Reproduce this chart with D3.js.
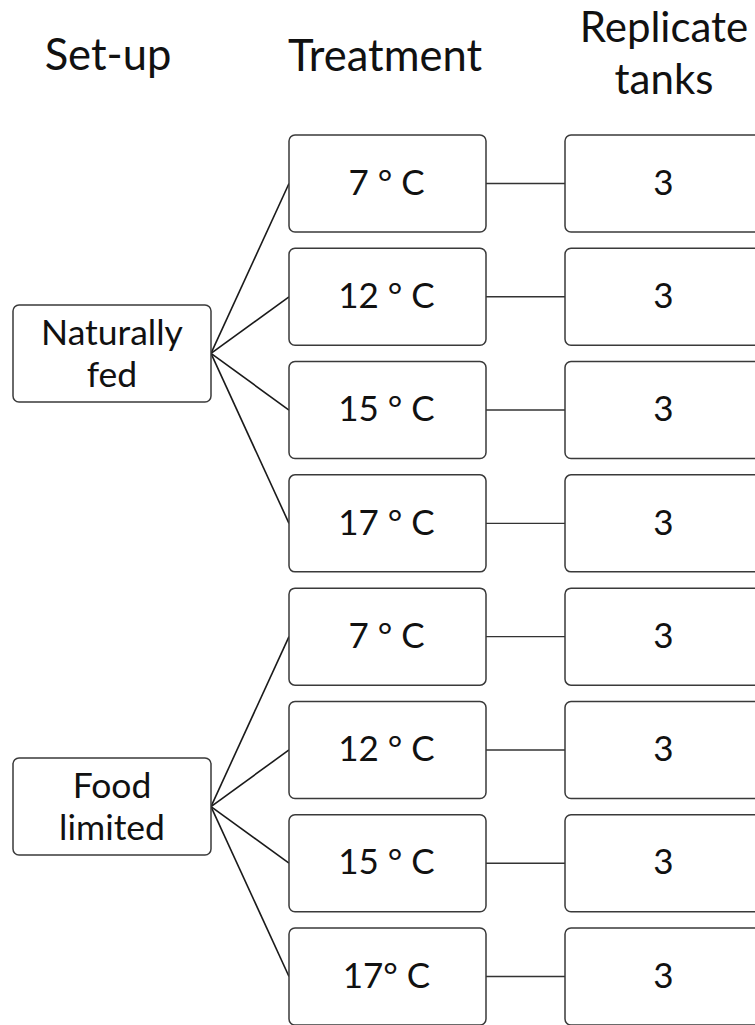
<!DOCTYPE html>
<html><head><meta charset="utf-8">
<script src="https://cdn.jsdelivr.net/npm/d3@7"></script>
<style>html,body{margin:0;padding:0;background:#fff;overflow:hidden}</style>
</head><body>
<script>
const headers = ["Set-up", "Treatment", "Replicate\ntanks"];
const setups = ["Naturally\nfed", "Food\nlimited"];
const treatments = ["7 ° C","12 ° C","15 ° C","17 ° C","7 ° C","12 ° C","15 ° C","17° C"];
const treatmentSetup = [0,0,0,0,1,1,1,1];
const replicates = [3,3,3,3,3,3,3,3];

const W = 755, H = 1025;
const svg = d3.select("body").append("svg").attr("width", W).attr("height", H);
const font = "Lato, 'Open Sans', sans-serif";
const ink = "#111";

const rowTop = d3.scaleLinear().domain([0, treatments.length - 1]).range([135, 928]);
const boxH = 97;
const col = { setup: [13, 211], treat: [289, 486], rep: [565, 762] };
const rowMid = i => rowTop(i) + boxH / 2;
const setupMid = s => d3.mean(treatments.map((t, i) => i).filter(i => treatmentSetup[i] === s), rowMid);

// connectors
const links = svg.append("g").attr("stroke", "#1a1a1a").attr("stroke-width", 1.6).attr("fill", "none");
treatments.forEach((t, i) => {
  links.append("line").attr("x1", col.setup[1]).attr("y1", setupMid(treatmentSetup[i]))
    .attr("x2", col.treat[0]).attr("y2", rowMid(i));
  links.append("line").attr("x1", col.treat[1]).attr("y1", rowMid(i))
    .attr("x2", col.rep[0]).attr("y2", rowMid(i)).attr("stroke-width", 1.4).attr("stroke", "#333");
});

function box(x0, x1, y0, h) {
  svg.append("rect").attr("x", x0).attr("y", y0).attr("width", x1 - x0).attr("height", h)
    .attr("rx", 6).attr("ry", 6).attr("fill", "#fff").attr("stroke", "#3a3a3a").attr("stroke-width", 1.5);
}
function label(txt, cx, cy, size, lh) {
  const lines = String(txt).split("\n");
  const t = svg.append("text").attr("text-anchor", "middle").attr("font-family", font)
    .attr("font-size", size).attr("fill", ink);
  lines.forEach((l, k) => {
    t.append("tspan").attr("x", cx).attr("y", cy + (k - (lines.length - 1) / 2) * lh).attr("dy", "0.35em").text(l);
  });
}

// setup boxes
setups.forEach((s, k) => {
  const m = setupMid(k);
  box(col.setup[0], col.setup[1], m - boxH / 2, boxH);
  label(s, (col.setup[0] + col.setup[1]) / 2, m, 35.5, 42);
});
// treatment + replicate boxes
treatments.forEach((t, i) => {
  box(col.treat[0], col.treat[1], rowTop(i), boxH);
  label(t, (col.treat[0] + col.treat[1]) / 2 - 1, rowMid(i) - 1, 35, 40);
  box(col.rep[0], col.rep[1], rowTop(i), boxH);
  label(replicates[i], (col.rep[0] + col.rep[1]) / 2, rowMid(i) - 1, 35, 40);
});
// headers
label(headers[0], 108, 55, 43.5, 52);
label(headers[1], 385, 56, 43.5, 52);
label(headers[2], 664, 53, 42, 52);
</script>
</body></html>
